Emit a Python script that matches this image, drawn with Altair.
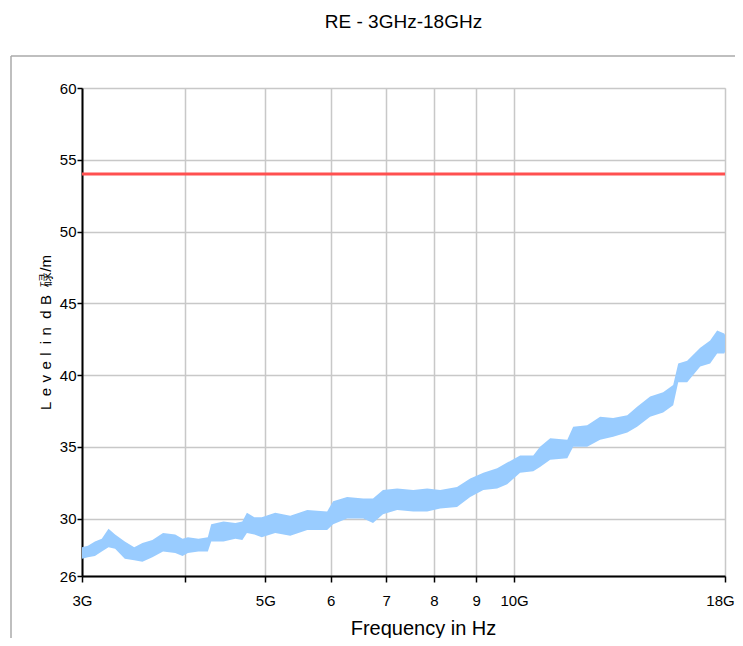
import altair as alt
import pandas as pd

# ---- data ----
freq_ghz = [3.00, 3.05, 3.11, 3.17, 3.23, 3.29, 3.38, 3.47, 3.55, 3.65, 3.76, 3.89,
            3.97, 4.03, 4.15, 4.26, 4.30, 4.45, 4.60, 4.69, 4.75, 4.85, 4.95, 5.14,
            5.36, 5.62, 5.94, 6.04, 6.28, 6.57, 6.75, 6.94, 7.22, 7.55, 7.85, 8.14,
            8.53, 8.85, 9.18, 9.54, 9.81, 10.17, 10.55, 10.75, 11.06, 11.60, 11.79,
            12.26, 12.71, 13.18, 13.71, 14.09, 14.61, 15.15, 15.58, 15.80, 16.20,
            16.80, 17.27, 17.61, 17.96, 18.00]
level_lo = [27.2, 27.3, 27.4, 27.7, 28.0, 27.9, 27.2, 27.1, 27.0, 27.3, 27.7, 27.6,
            27.4, 27.6, 27.7, 27.7, 28.4, 28.4, 28.6, 28.5, 29.0, 28.9, 28.7, 29.0,
            28.8, 29.2, 29.2, 29.6, 30.0, 30.0, 29.7, 30.3, 30.6, 30.5, 30.5, 30.7,
            30.8, 31.5, 32.0, 32.1, 32.4, 33.2, 33.3, 33.6, 34.1, 34.2, 35.0,
            35.0, 35.5, 35.7, 36.0, 36.4, 37.1, 37.4, 37.9, 39.5, 39.5,
            40.6, 40.8, 41.5, 41.5, 41.6]
level_hi = [28.0, 28.1, 28.4, 28.6, 29.3, 28.9, 28.4, 28.0, 28.3, 28.5, 29.0, 28.9,
            28.6, 28.7, 28.6, 28.7, 29.6, 29.8, 29.7, 29.8, 30.4, 30.1, 30.1, 30.4,
            30.2, 30.6, 30.5, 31.2, 31.5, 31.4, 31.4, 32.0, 32.1, 32.0, 32.1, 32.0,
            32.2, 32.8, 33.2, 33.5, 33.9, 34.4, 34.4, 35.0, 35.6, 35.5, 36.4,
            36.5, 37.1, 37.0, 37.2, 37.8, 38.5, 38.8, 39.3, 40.8, 41.0,
            41.9, 42.4, 43.1, 42.9, 42.8]

limit_freq = [3, 18]
limit_level = [54, 54]

x_ticks = [3, 4, 5, 6, 7, 8, 9, 10, 18]
x_labels = ["3G", "", "5G", "6", "7", "8", "9", "10G", "18G"]
y_ticks = [26, 27.5, 30, 32.5, 35, 37.5, 40, 42.5, 45, 47.5, 50, 52.5, 55, 57.5, 60]

FONT = "Liberation Sans"
LG = "\u00a0\u200a"      # gap between letters
WG = "\u00a0\u00a0"      # gap between words
y_title = WG.join([LG.join("Level"), LG.join("in"), LG.join("dB"), "碌/m"])

band = pd.DataFrame({"f": freq_ghz, "lo": level_lo, "hi": level_hi})
limit = pd.DataFrame({"f": limit_freq, "v": limit_level})

x_label_expr = "''"
for v, lab in reversed(list(zip(x_ticks, x_labels))):
    x_label_expr = f"datum.value == {v} ? '{lab}' : ({x_label_expr})"

x_scale = alt.Scale(type="log", domain=[3, 18], nice=False)
y_scale = alt.Scale(domain=[26, 60], nice=False, zero=False)

x_axis = alt.Axis(
    values=x_ticks, labelExpr=x_label_expr, title="Frequency in Hz",
    grid=True, gridColor="#c8c8c8", gridWidth=1.5,
    domainColor="#000000", domainWidth=2, tickColor="#000000", tickWidth=1.5,
    tickSize=6, labelPadding=11, labelFontSize=15, labelFont=FONT,
    labelColor="#000000", labelFlush=False, labelOverlap=False,
    labelOffset={"condition": {"test": "datum.value == 18", "value": -5}, "value": 0},
    titleFont=FONT, titleFontSize=20, titleFontWeight="normal", titleColor="#000000",
    titleX=341, titleY=58, titleBaseline="alphabetic", titleAnchor="start",
    titleAlign="center",
)
y_axis = alt.Axis(
    values=y_ticks,
    labelExpr="(datum.value % 5 == 0 || datum.value == 26) ? datum.label : ''",
    title=y_title,
    grid=True, gridColor="#c8c8c8", gridWidth=1.5,
    domainColor="#000000", domainWidth=2, tickColor="#000000", tickWidth=1.5,
    tickSize=5, labelPadding=1, labelFontSize=15, labelFont=FONT,
    labelColor="#000000", labelFlush=False, labelOverlap=False,
    titleFont=FONT, titleFontSize=15, titleFontWeight="normal", titleColor="#000000",
    titleX=-32, titleBaseline="alphabetic",
)

area = alt.Chart(band).mark_area(color="#99ccff", opacity=1, line=False).encode(
    x=alt.X("f:Q", scale=x_scale, axis=x_axis),
    y=alt.Y("lo:Q", scale=y_scale, axis=y_axis),
    y2="hi:Q",
)

limit_line = alt.Chart(limit).mark_line(color="#ff5050", strokeWidth=3).encode(
    x=alt.X("f:Q", scale=x_scale),
    y=alt.Y("v:Q", scale=y_scale),
)

frame_src = pd.DataFrame({"k": [0]})
frame_v = alt.Chart(frame_src).mark_rule(color="#aaaaaa", strokeWidth=1.5).encode(
    x=alt.value(-71), y=alt.value(-32), y2=alt.value(700)
)
frame_h = alt.Chart(frame_src).mark_rule(color="#aaaaaa", strokeWidth=1.5).encode(
    x=alt.value(-71), x2=alt.value(800), y=alt.value(-32)
)

chart = alt.layer(frame_v, frame_h, area, limit_line).properties(
    width=643, height=488,
    padding={"left": 74, "top": 80, "right": 10, "bottom": 62},
    autosize="none",
    title=alt.TitleParams("RE - 3GHz-18GHz", font=FONT, fontSize=19,
                          fontWeight="normal", color="#000000", anchor="middle",
                          offset=23),
).configure_view(stroke="#c8c8c8", strokeWidth=1.5).configure(background="#ffffff")

chart.save("out.html", embed_options={"renderer": "svg", "actions": False})
